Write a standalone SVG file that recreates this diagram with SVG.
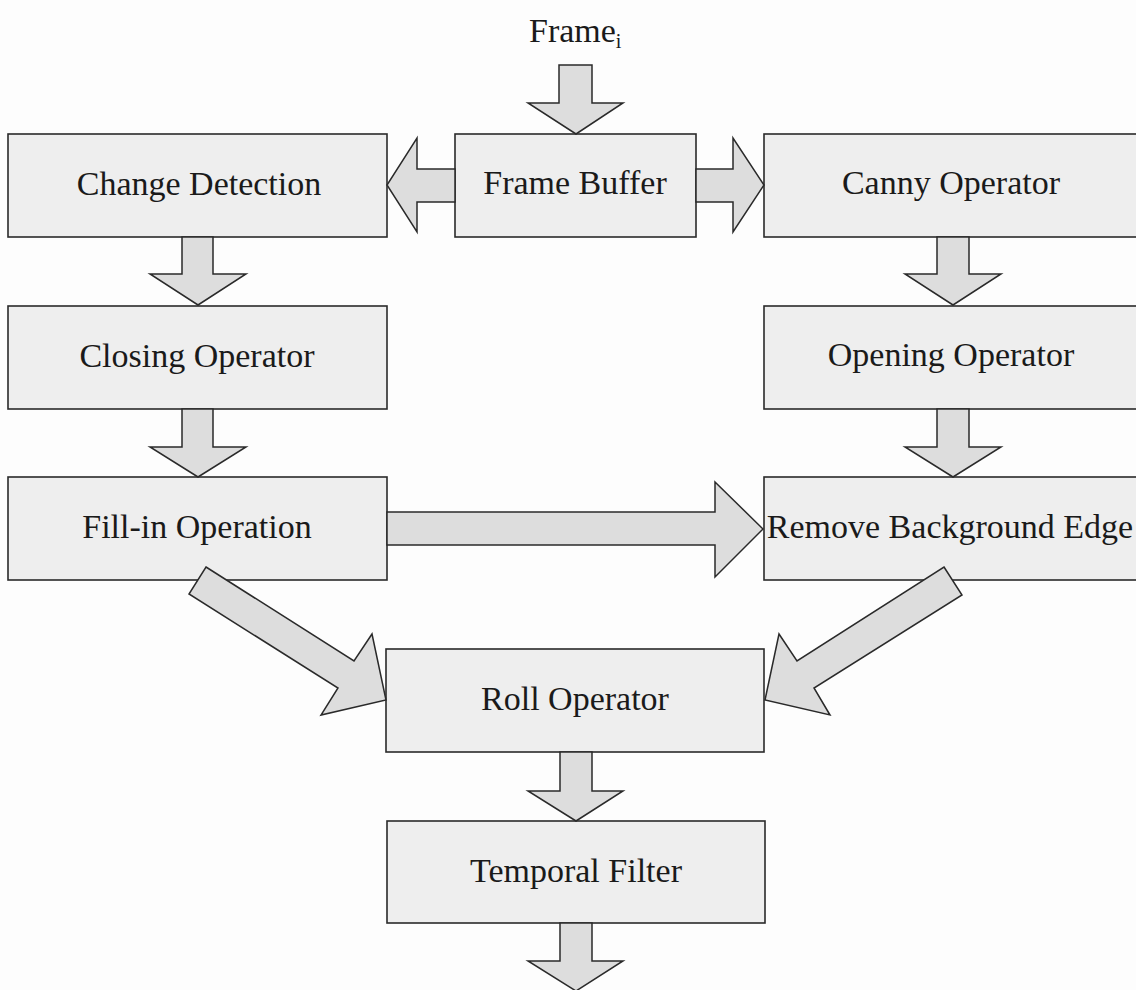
<svg xmlns="http://www.w3.org/2000/svg" width="1136" height="990" viewBox="0 0 1136 990">
  <style>
    .box { fill: #eeeeee; stroke: #2a2a2a; stroke-width: 1.6; }
    .arr { fill: #dddddd; stroke: #2a2a2a; stroke-width: 1.5; stroke-linejoin: miter; }
    .lbl { font-family: "Liberation Serif", "Times New Roman", serif; font-size: 34px; fill: #1a1a1a; text-anchor: middle; }
  </style>
  <rect x="0" y="0" width="1136" height="990" fill="#fdfdfd"/>

  <g id="frame-input">
    <text class="lbl" x="529" y="42" style="text-anchor:start">Frame<tspan font-size="20" dy="6">i</tspan></text>
  </g>

  <g id="change-detection">
    <rect class="box" x="8" y="134" width="379" height="103"/>
    <text class="lbl" x="199" y="195">Change Detection</text>
  </g>
  <g id="frame-buffer">
    <rect class="box" x="455" y="134" width="241" height="103"/>
    <text class="lbl" x="575" y="194">Frame Buffer</text>
  </g>
  <g id="canny-operator">
    <rect class="box" x="764" y="134" width="379" height="103"/>
    <text class="lbl" x="951" y="194">Canny Operator</text>
  </g>
  <g id="closing-operator">
    <rect class="box" x="8" y="306" width="379" height="103"/>
    <text class="lbl" x="197" y="367">Closing Operator</text>
  </g>
  <g id="opening-operator">
    <rect class="box" x="764" y="306" width="379" height="103"/>
    <text class="lbl" x="951" y="366">Opening Operator</text>
  </g>
  <g id="fill-in-operation">
    <rect class="box" x="8" y="477" width="379" height="103"/>
    <text class="lbl" x="197" y="538">Fill-in Operation</text>
  </g>
  <g id="remove-background-edge">
    <rect class="box" x="764" y="477" width="379" height="103"/>
    <text class="lbl" x="950" y="538">Remove Background Edge</text>
  </g>
  <g id="roll-operator">
    <rect class="box" x="386" y="649" width="378" height="103"/>
    <text class="lbl" x="575" y="710">Roll Operator</text>
  </g>
  <g id="temporal-filter">
    <rect class="box" x="387" y="821" width="378" height="102"/>
    <text class="lbl" x="576" y="882">Temporal Filter</text>
  </g>

  <g id="connectors">
    <polygon class="arr" points="559,65 592,65 592,103 623,103 576,134 528,103 559,103"/>
    <polygon class="arr" points="455,169 417,169 417,138 387,185 417,232 417,202 455,202"/>
    <polygon class="arr" points="696,169 733,169 733,138 764,185 733,232 733,202 696,202"/>
    <polygon class="arr" points="182,237 213,237 213,274 246,274 198,305 150,274 182,274"/>
    <polygon class="arr" points="937,237 969,237 969,274 1001,274 953,305 905,274 937,274"/>
    <polygon class="arr" points="182,409 213,409 213,447 246,447 198,477 150,447 182,447"/>
    <polygon class="arr" points="937,409 969,409 969,447 1001,447 953,477 905,447 937,447"/>
    <polygon class="arr" points="387,512 715,512 715,482 763,529 715,577 715,545 387,545"/>
    <polygon class="arr" points="206,567 354,661 372,634 386,700 321,715 338,688 189,594"/>
    <polygon class="arr" points="944,567 962,595 814,688 830,715 765,700 779,634 797,661"/>
    <polygon class="arr" points="560,752 592,752 592,791 623,791 576,821 528,791 560,791"/>
    <polygon class="arr" points="560,923 592,923 592,961 623,961 576,991 528,961 560,961"/>
  </g>
</svg>
